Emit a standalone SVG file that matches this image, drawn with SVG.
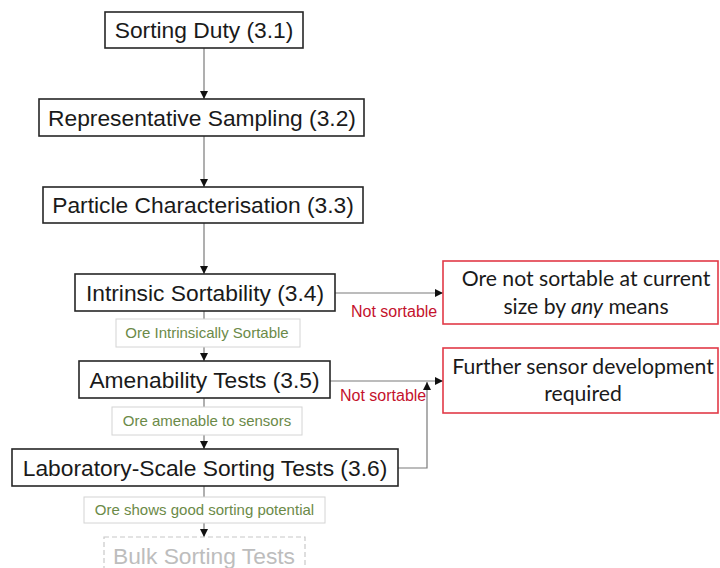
<svg xmlns="http://www.w3.org/2000/svg" width="720" height="568" viewBox="0 0 720 568">
  <style>
    .box { fill: #fff; stroke: #262626; stroke-width: 1.6; }
    .stop { fill: #fff; stroke: #e23a48; stroke-width: 1.6; }
    .cond { fill: #fff; stroke: #d4d4d4; stroke-width: 1; }
    .future { fill: #fff; stroke: #c8c8c8; stroke-width: 1.2; stroke-dasharray: 5 3; }
    .t { font-family: "Liberation Sans", Arial, sans-serif; font-size: 22.8px; fill: #1a1a1a; text-anchor: middle; }
    .tf { font-family: "Liberation Sans", Arial, sans-serif; font-size: 22.8px; fill: #bdbdbd; text-anchor: middle; }
    .tc { font-family: "Liberation Sans", Arial, sans-serif; font-size: 15px; fill: #6b8a48; text-anchor: middle; }
    .tr { font-family: Lato, "Open Sans", sans-serif; font-size: 21.2px; fill: #1a1a1a; text-anchor: middle; }
    .red { font-family: "Liberation Sans", Arial, sans-serif; font-size: 16px; fill: #c4122c; }
    .ln { fill: none; stroke: #7a7a7a; stroke-width: 1.2; }
  </style>
  <defs>
    <marker id="ah" markerUnits="userSpaceOnUse" markerWidth="9" markerHeight="9" refX="8" refY="4" orient="auto">
      <path d="M0,0 L8,4 L0,8 z" fill="#111"/>
    </marker>
  </defs>

  <rect width="720" height="568" fill="#fff"/>

  <!-- connectors -->
  <g id="connectors">
    <path class="ln" d="M204,48 V99" marker-end="url(#ah)"/>
    <path class="ln" d="M204,136 V187" marker-end="url(#ah)"/>
    <path class="ln" d="M204,223 V274" marker-end="url(#ah)"/>
    <path class="ln" d="M204,311 V361" marker-end="url(#ah)"/>
    <path class="ln" d="M204,398 V449" marker-end="url(#ah)"/>
    <path class="ln" d="M204,486 V537" marker-end="url(#ah)"/>
    <path class="ln" d="M335,293 H443" marker-end="url(#ah)"/>
    <path class="ln" d="M330,381 H443" marker-end="url(#ah)"/>
    <path class="ln" d="M398,468 H427 V382" marker-end="url(#ah)"/>
    <text class="red" x="351" y="317">Not sortable</text>
    <text class="red" x="340" y="401">Not sortable</text>
  </g>

  <g id="sorting-duty">
    <rect class="box" x="105" y="12" width="198" height="36"/>
    <text class="t" x="204" y="38">Sorting Duty (3.1)</text>
  </g>
  <g id="representative-sampling">
    <rect class="box" x="39" y="99" width="325" height="37"/>
    <text class="t" x="202" y="126">Representative Sampling (3.2)</text>
  </g>
  <g id="particle-characterisation">
    <rect class="box" x="43" y="187" width="320" height="36"/>
    <text class="t" x="203" y="213">Particle Characterisation (3.3)</text>
  </g>
  <g id="intrinsic-sortability">
    <rect class="box" x="75" y="274" width="260" height="37"/>
    <text class="t" x="205" y="301">Intrinsic Sortability (3.4)</text>
  </g>
  <g id="cond-intrinsic">
    <rect class="cond" x="116" y="319" width="184" height="28"/>
    <text class="tc" x="207" y="338">Ore Intrinsically Sortable</text>
  </g>
  <g id="amenability-tests">
    <rect class="box" x="79" y="361" width="251" height="37"/>
    <text class="t" x="204.5" y="388">Amenability Tests (3.5)</text>
  </g>
  <g id="cond-amenable">
    <rect class="cond" x="112" y="407" width="190" height="28"/>
    <text class="tc" x="207" y="426">Ore amenable to sensors</text>
  </g>
  <g id="lab-sorting-tests">
    <rect class="box" x="12" y="449" width="386" height="37"/>
    <text class="t" x="205" y="476">Laboratory-Scale Sorting Tests (3.6)</text>
  </g>
  <g id="cond-potential">
    <rect class="cond" x="84" y="497" width="241" height="26"/>
    <text class="tc" x="204.5" y="515">Ore shows good sorting potential</text>
  </g>
  <g id="bulk-sorting-tests">
    <rect class="future" x="104" y="537" width="201" height="40"/>
    <text class="tf" x="204" y="564">Bulk Sorting Tests</text>
  </g>

  <g id="not-sortable">
    <rect class="stop" x="443" y="261" width="275" height="63"/>
    <text class="tr" x="586" y="286">Ore not sortable at current</text>
    <text class="tr" x="586" y="314">size by <tspan font-style="italic">any</tspan> means</text>
  </g>
  <g id="sensor-development">
    <rect class="stop" x="443" y="348" width="275" height="65"/>
    <text class="tr" x="583" y="374">Further sensor development</text>
    <text class="tr" x="583" y="401">required</text>
  </g>
</svg>
